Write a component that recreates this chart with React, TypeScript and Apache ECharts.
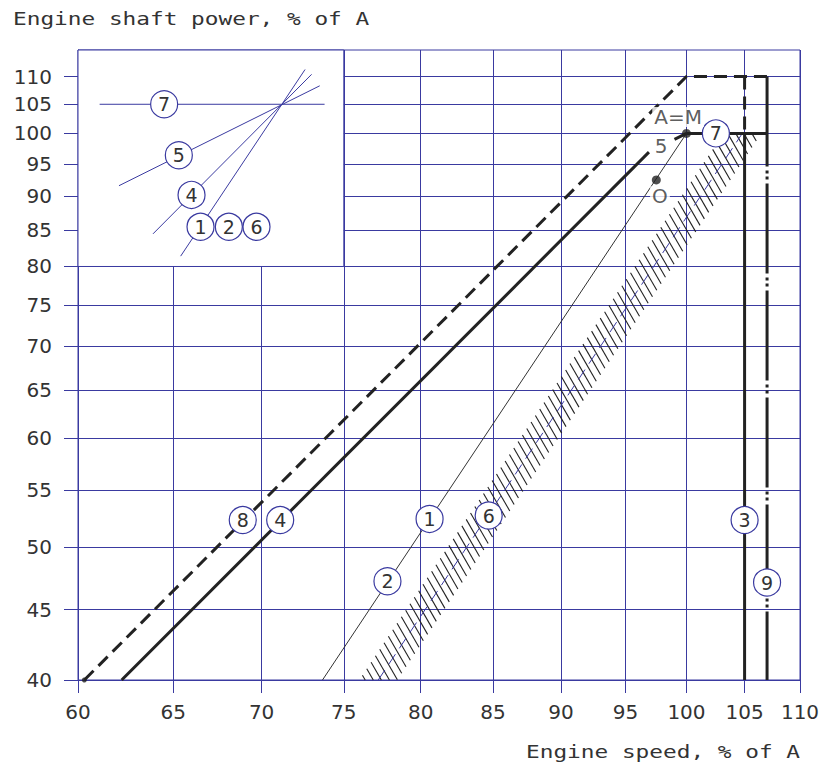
import React, { useEffect, useRef } from 'react';
import * as echarts from 'echarts';

// ---- data (engine speed %, engine shaft power %) ----
const X_TICKS = [60, 65, 70, 75, 80, 85, 90, 95, 100, 105, 110];
const Y_TICKS = [40, 45, 50, 55, 60, 65, 70, 75, 80, 85, 90, 95, 100, 105, 110];
const X_RANGE = [60, 110];
const Y_RANGE = [40, 115];

const LINE8 = [[60.32, 40], [100, 110], [107, 110]];
const LINE8B = [[105, 110], [105, 100]];
const LINE4 = [[62.24, 40], [96.9, 96.9]];
const LINE5 = [[99, 99], [100, 100]];
const LINE1 = [[73.67, 40], [100, 100]];
const LINE6 = [[77.2, 40], [104.8, 100]];
const LINE3 = [[105, 40], [105, 100]];
const LINE7 = [[100, 100], [107, 100]];
const LINE9 = [[107, 110], [107, 40]];

const POINTS = [[100, 100], [97.5, 92.5]];
const START_DOT = [[60.32, 40]];

const CIRCLE_LABELS = [
  { n: '8', p: [68.9, 52.3] },
  { n: '4', p: [71.1, 52.3] },
  { n: '1', p: [80.6, 52.4] },
  { n: '6', p: [84.7, 52.7] },
  { n: '2', p: [77.8, 47.2] },
  { n: '3', p: [105, 52.3] },
  { n: '9', p: [107, 47.1] },
  { n: '7', p: [102.5, 100] },
];
const TEXT_LABELS = [
  { n: 'A=M', p: [99.3, 102.8] },
  { n: '5', p: [97.9, 97.9] },
  { n: 'O', p: [97.8, 90.0] },
];

// inset sketch
const INSET_BOX = [[60, 80], [75, 115]];
const INSET_7 = [[61.1, 105], [73.8, 105]];
const INSET_5 = [[62.1, 91.6], [73.5, 108.3]];
const INSET_4 = [[63.9, 84.5], [73.0, 110.4]];
const INSET_1 = [[65.4, 81.4], [72.6, 111.3]];
const INSET_LABELS = [
  { n: '7', p: [64.5, 105] },
  { n: '5', p: [65.3, 96.4] },
  { n: '4', p: [66.0, 90.2] },
  { n: '1', p: [66.5, 85.5] },
  { n: '2', p: [68.1, 85.5] },
  { n: '6', p: [69.7, 85.5] },
];

const L = (v: number) => Math.log10(v);
const tp = (pts: number[][]) => pts.map((p) => [L(p[0]), L(p[1])]);

const BLUE = '#3a3aa0';
const INK = '#222';
const TXT = '#333';
const FONT = 'DejaVu Sans';

function lineSeries(data: number[][], color: string, width: number, type: any, z = 4) {
  return {
    type: 'line',
    data: tp(data),
    symbol: 'none',
    z,
    silent: true,
    lineStyle: { color, width, type, cap: 'butt' },
  };
}

export default function App() {
  const ref = useRef<HTMLDivElement>(null);
  useEffect(() => {
    if (!ref.current) return;
    const chart = echarts.init(ref.current, undefined, { renderer: 'svg' });
    const circleSeries = (items: { n: string; p: number[] }[]) => ({
      type: 'scatter',
      z: 6,
      silent: true,
      symbol: 'circle',
      symbolSize: 27,
      itemStyle: { color: '#fff', borderColor: BLUE, borderWidth: 1.2, opacity: 1 },
      label: {
        show: true,
        position: 'inside',
        formatter: '{b}',
        color: TXT,
        fontSize: 19,
        fontFamily: FONT,
      },
      data: items.map((it) => ({ name: it.n, value: [L(it.p[0]), L(it.p[1])] })),
    });

    const option: any = {
      animation: false,
      grid: { left: 78, right: 26, top: 50, bottom: 89, show: true, borderColor: BLUE, borderWidth: 1, containLabel: false, outerBoundsMode: 'none' },
      xAxis: {
        type: 'value',
        min: L(X_RANGE[0]),
        max: L(X_RANGE[1]),
        axisLine: { show: true, lineStyle: { color: BLUE, width: 1 } },
        axisTick: { show: true, customValues: X_TICKS.map(L), length: 13, lineStyle: { color: BLUE } },
        splitLine: { show: true, lineStyle: { color: BLUE, width: 1 } },
        axisLabel: {
          customValues: X_TICKS.map(L),
          formatter: (v: number) => String(Math.round(Math.pow(10, v))),
          color: TXT,
          fontSize: 20,
          fontFamily: FONT,
          margin: 22,
        },
      },
      yAxis: {
        type: 'value',
        min: L(Y_RANGE[0]),
        max: L(Y_RANGE[1]),
        axisLine: { show: true, lineStyle: { color: BLUE, width: 1 } },
        axisTick: { show: true, customValues: Y_TICKS.map(L), length: 14, lineStyle: { color: BLUE } },
        splitLine: { show: true, lineStyle: { color: BLUE, width: 1 } },
        axisLabel: {
          customValues: Y_TICKS.map(L),
          formatter: (v: number) => String(Math.round(Math.pow(10, v))),
          color: TXT,
          fontSize: 20,
          fontFamily: FONT,
          margin: 26,
        },
      },
      graphic: [
        {
          type: 'text',
          x: 13,
          y: 19,
          scaleX: 1.34,
          style: { text: 'Engine shaft power, % of A', fontFamily: 'DejaVu Sans Mono', fontSize: 17, fill: TXT, textAlign: 'left', textVerticalAlign: 'middle' },
        },
        {
          type: 'text',
          x: 800,
          y: 752,
          scaleX: 1.34,
          style: { text: 'Engine speed, % of A', fontFamily: 'DejaVu Sans Mono', fontSize: 17, fill: TXT, textAlign: 'right', textVerticalAlign: 'middle' },
        },
      ],
      series: [
        {
          type: 'line',
          data: [],
          z: 2,
          silent: true,
          markArea: {
            silent: true,
            itemStyle: { color: '#fff', borderColor: BLUE, borderWidth: 1 },
            data: [[{ coord: [L(INSET_BOX[0][0]), L(INSET_BOX[0][1])] }, { coord: [L(INSET_BOX[1][0]), L(INSET_BOX[1][1])] }]],
          },
        },
        // hatched band around line 6
        {
          type: 'custom',
          z: 3,
          silent: true,
          data: [[L(LINE6[0][0]), L(LINE6[0][1]), L(LINE6[1][0]), L(LINE6[1][1])]],
          encode: { x: [0, 2], y: [1, 3] },
          renderItem: (params: any, api: any) => {
            const p0 = api.coord([api.value(0), api.value(1)]);
            const p1 = api.coord([api.value(2), api.value(3)]);
            const W = 19;
            const hx = 0.5;
            const hy = 0.866;
            const dx = p1[0] - p0[0];
            const dy = p1[1] - p0[1];
            const r = dx / dy;
            const t = (2 * W) / (hx - hy * r);
            const len = Math.hypot(dx, dy);
            const step = 7.8 / len;
            const yTop = p1[1];
            const yBot = p0[1];
            const children: any[] = [];
            for (let s = -0.3; s <= 1.3; s += step) {
              const ax = p0[0] + s * dx - W;
              const ay = p0[1] + s * dy;
              const u0 = Math.max(0, (yTop - ay) / hy);
              const u1 = Math.min(t, (yBot - ay) / hy);
              if (u1 > u0) {
                children.push({
                  type: 'line',
                  shape: { x1: ax + u0 * hx, y1: ay + u0 * hy, x2: ax + u1 * hx, y2: ay + u1 * hy },
                  style: { stroke: '#222', lineWidth: 1.1 },
                });
              }
            }
            return { type: 'group', children };
          },
        },
        lineSeries(LINE6, BLUE, 1, [12, 7], 4),
        lineSeries(LINE1, '#333', 1, 'solid', 4),
        lineSeries(LINE4, INK, 3, 'solid', 4),
        lineSeries(LINE5, INK, 3, 'solid', 4),
        lineSeries(LINE8, INK, 3, [13, 7], 4),
        lineSeries(LINE8B, INK, 3, [13, 7], 4),
        lineSeries(LINE3, INK, 3, 'solid', 4),
        lineSeries(LINE7, INK, 3, 'solid', 4),
        lineSeries(LINE9, INK, 3, [90, 4, 3, 3, 3, 4], 4),
        lineSeries(INSET_7, BLUE, 1, 'solid', 4),
        lineSeries(INSET_5, BLUE, 1, 'solid', 4),
        lineSeries(INSET_4, BLUE, 1, 'solid', 4),
        lineSeries(INSET_1, BLUE, 1, 'solid', 4),
        {
          type: 'scatter',
          z: 5,
          silent: true,
          symbolSize: 9,
          itemStyle: { color: INK },
          data: tp(POINTS),
        },
        {
          type: 'scatter',
          z: 5,
          silent: true,
          symbolSize: 5,
          itemStyle: { color: INK },
          data: tp(START_DOT),
        },
        {
          type: 'scatter',
          z: 6,
          silent: true,
          symbolSize: 1,
          itemStyle: { color: 'rgba(0,0,0,0)' },
          label: {
            show: true,
            position: 'inside',
            formatter: '{b}',
            color: TXT,
            fontSize: 20,
            fontFamily: FONT,
            backgroundColor: '#fff',
            padding: [0, 2],
          },
          data: TEXT_LABELS.map((it) => ({ name: it.n, value: [L(it.p[0]), L(it.p[1])] })),
        },
        circleSeries(CIRCLE_LABELS),
        circleSeries(INSET_LABELS),
      ],
    };
    chart.setOption(option);
    return () => chart.dispose();
  }, []);
  return <div ref={ref} style={{ position: 'absolute', left: 0, top: 0, width: 826, height: 769 }} />;
}
